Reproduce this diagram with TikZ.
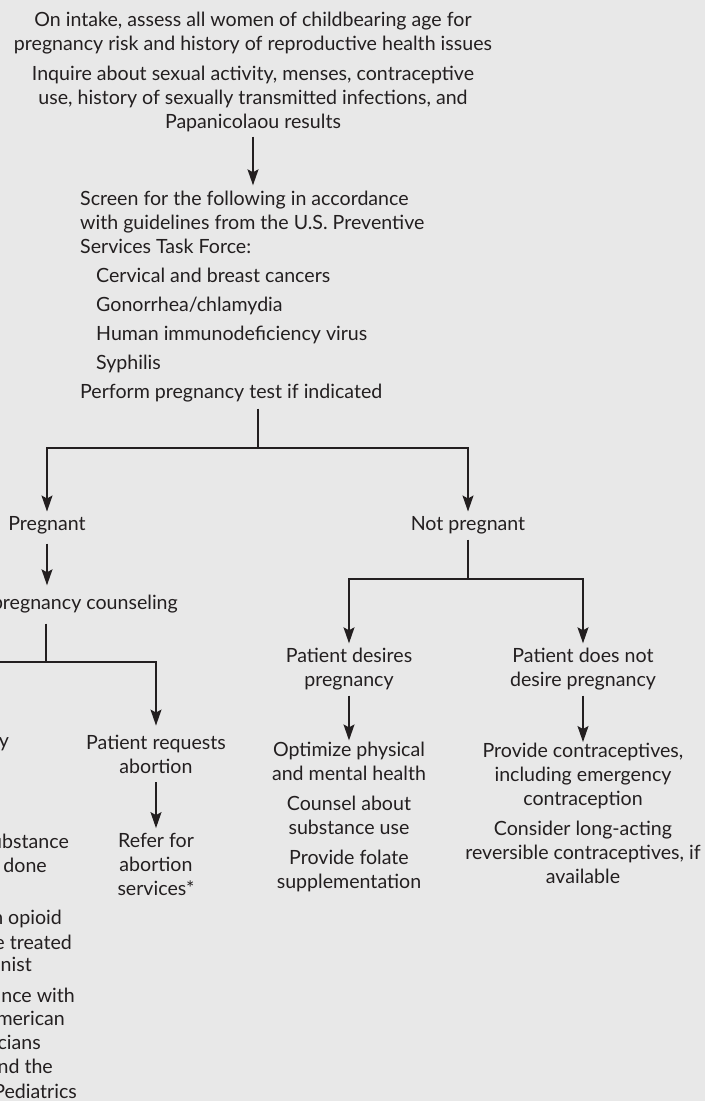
\documentclass[tikz,border=0pt]{standalone}
\usepackage{fontspec}
\setmainfont{Lato}
\usetikzlibrary{arrows.meta}
\definecolor{bg}{HTML}{E8E8E8}
\definecolor{ink}{HTML}{231F20}
\begin{document}
\begin{tikzpicture}[x=1pt,y=-1pt,
  txt/.style={inner sep=5pt, text=ink, font=\fontsize{19.6}{24}\selectfont, align=center},
  frag/.style={inner sep=0pt, anchor=east, text=ink, font=\fontsize{19.6}{24}\selectfont},
  arr/.style={draw=ink, line width=1.3pt, -{Stealth[width=11pt,length=16pt,inset=3pt]}},
  ln/.style={draw=ink, line width=1.3pt}]
\useasboundingbox (0,0) rectangle (705,1101);
\fill[bg] (0,0) rectangle (705,1101);
\clip (0,0) rectangle (705,1101);

% top
\node[txt] (intake) at (253,33) {On intake, assess all women of childbearing age for\\pregnancy risk and history of reproductive health issues};
\node[txt] (inquire) at (253,98.5) {Inquire about sexual activity, menses, contraceptive\\use, history of sexually transmitted infections, and\\Papanicolaou results};
\node[txt, align=left, anchor=west, inner xsep=0pt, inner ysep=6pt] (screen) at (80,297) {Screen for the following in accordance\\with guidelines from the U.S. Preventive\\Services Task Force:\\[5pt]\hspace*{16pt}Cervical and breast cancers\\[5pt]\hspace*{16pt}Gonorrhea/chlamydia\\[5pt]\hspace*{16pt}Human immunodeficiency virus\\[5pt]\hspace*{16pt}Syphilis\\[5pt]Perform pregnancy test if indicated};
\draw[arr] (inquire.south) -- (inquire.south |- screen.north);

\coordinate (s1) at (258,448);
\node[txt] (preg) at (47,525.5) {Pregnant};
\node[txt] (notp) at (468,525.5) {Not pregnant};
\draw[ln] (s1 |- screen.south) -- (s1);
\draw[arr] (s1) -| (preg.north);
\draw[arr] (s1) -| (notp.north);

% pregnant branch
\node[txt, anchor=east, inner xsep=0pt, inner ysep=10pt] (couns) at (178,604.5) {Provide pregnancy counseling};
\draw[arr, shorten <=4pt] (preg.south) -- (preg.south |- couns.north);
\coordinate (s2) at (46,662);
\draw[ln] (s2 |- couns.south) -- (s2);
\node[txt, inner ysep=9pt] (reqab) at (156,754) {Patient requests\\abortion};
\node[frag] (cont) at (9,742.5) {Patient continues pregnancy};
\draw[arr] (s2) -| (reqab.north);
\draw[arr] (s2) -| (cont.north);
\node[txt] (refer) at (156,864.5) {Refer for\\abortion\\services*};
\draw[arr] (reqab.south) -- (reqab.south |- refer.north);

\node[frag] (f1) at (69,841.5) {Screen for substance};
\node[frag] (f2) at (47,865.5) {use should be done};
\node[frag] (f3) at (62,918.5) {Patients dependent on opioid};
\node[frag] (f4) at (72,942.5) {use disorder should be treated};
\node[frag] (f5) at (32,966.5) {with an opioid agonist};
\node[frag] (f6) at (75,996.5) {Provide prenatal care in accordance with};
\node[frag] (f7) at (65,1020.5) {guidelines from the American};
\node[frag] (f8) at (41,1044.5) {College of Obstetricians};
\node[frag] (f9) at (53,1068.5) {and Gynecologists and the};
\node[frag] (f10) at (77,1092.5) {American Academy of Pediatrics};

% not pregnant branch
\coordinate (s3) at (468,579);
\draw[ln] (notp.south) -- (s3);
\node[txt] (des) at (349,669.5) {Patient desires\\pregnancy};
\node[txt] (ndes) at (583,669.5) {Patient does not\\desire pregnancy};
\draw[arr] (s3) -| (des.north);
\draw[arr] (s3) -| (ndes.north);
\node[txt, inner sep=1pt] (opt) at (349,816.5) {Optimize physical\\and mental health\\[6pt]Counsel about\\substance use\\[6pt]Provide folate\\supplementation};
\node[txt, inner sep=1pt] (contr) at (583,813.5) {Provide contraceptives,\\including emergency\\contraception\\[6pt]Consider long-acting\\reversible contraceptives, if\\available};
\draw[arr] (des.south) -- (des.south |- opt.north);
\draw[arr] (ndes.south) -- (ndes.south |- contr.north);
\end{tikzpicture}
\end{document}
